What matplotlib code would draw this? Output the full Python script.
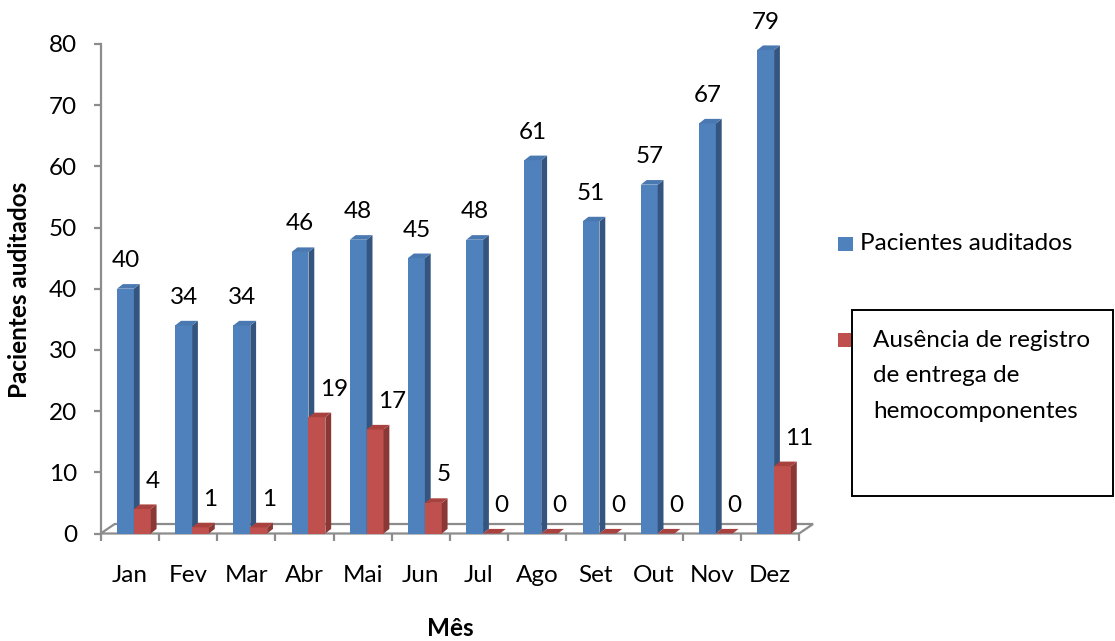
import numpy as np
import matplotlib
matplotlib.use('Agg')
import matplotlib.pyplot as plt
from matplotlib.patches import Polygon, Rectangle

#----Data----#
meses = ['Jan', 'Fev', 'Mar', 'Abr', 'Mai', 'Jun', 'Jul', 'Ago', 'Set', 'Out', 'Nov', 'Dez']
pacientes_auditados = [40, 34, 34, 46, 48, 45, 48, 61, 51, 57, 67, 79]
ausencia_registro = [4, 1, 1, 19, 17, 5, 0, 0, 0, 0, 0, 11]
y_ticks = [0, 10, 20, 30, 40, 50, 60, 70, 80]

serie_azul = 'Pacientes auditados'
serie_vermelha = 'Ausência de registro\nde entrega de\nhemocomponentes'

#----Style----#
plt.rcParams['font.family'] = ['Lato', 'DejaVu Sans']
FS = 17.5
W, H = 1115, 641
AZUL = ('#4F81BD', '#34557F', '#4A78B0')      # front, side, top
VERMELHO = ('#C0504D', '#8A3836', '#A9423F')
CINZA = '#8C8C8C'

# 3D depth of each bar (category units, value units)
DX, DY = 0.1, 0.75
BAR_W = 0.29
PX_X, PX_Y = 58.2, 6.12   # pixels per category / per value unit


def px(x, y):
    # pixel position (from top-left) to figure fraction
    return x / W, 1 - y / H


def draw_bars(ax, lefts, values, cores, z):
    front, side, top = cores
    ax.bar(lefts, values, width=BAR_W, align='edge', color=front, zorder=z, linewidth=0)
    for x0, v in zip(lefts, values):
        x1 = x0 + BAR_W
        ax.add_patch(Polygon([(x1, 0), (x1 + DX, DY), (x1 + DX, v + DY), (x1, v)],
                             closed=True, facecolor=side, edgecolor='none', zorder=z))
        ax.add_patch(Polygon([(x0, v), (x1, v), (x1 + DX, v + DY), (x0 + DX, v + DY)],
                             closed=True, facecolor=top, edgecolor='none', zorder=z))


fig = plt.figure(figsize=(W / 100, H / 100), dpi=100)
x_left, y_zero = 100.7, 533.5
xlim = (0, 12.5)
ylim = (-2, 87)
ax = fig.add_axes([x_left / W,
                   (H - (y_zero - ylim[0] * PX_Y)) / H,
                   (xlim[1] - xlim[0]) * PX_X / W,
                   (ylim[1] - ylim[0]) * PX_Y / H])
ax.set_xlim(*xlim)
ax.set_ylim(*ylim)
ax.patch.set_alpha(0)

# floor of the 3D plot
n = len(meses)
ax.add_patch(Polygon([(0, 0), (n, 0), (n + 0.24, 1.55), (0.24, 1.55)], closed=True,
                     facecolor='none', edgecolor=CINZA, linewidth=1.6, zorder=1))

pos = np.arange(n)
azul_x = pos + 0.28
verm_x = azul_x + BAR_W
draw_bars(ax, azul_x, pacientes_auditados, AZUL, 2)
draw_bars(ax, verm_x, ausencia_registro, VERMELHO, 3)

# data labels
off = 28 / PX_Y
for x, v in zip(azul_x + BAR_W / 2, pacientes_auditados):
    ax.text(x, v + off, str(v), ha='center', va='center', fontsize=FS, zorder=5)
for x, v in zip(verm_x + BAR_W / 2, ausencia_registro):
    ax.text(x + 0.05, v + off, str(v), ha='left', va='center', fontsize=FS, zorder=5)

# axes
for s in ['top', 'right']:
    ax.spines[s].set_visible(False)
ax.spines['left'].set_bounds(0, 80)
ax.spines['left'].set_color(CINZA)
ax.spines['left'].set_linewidth(1.6)
ax.spines['bottom'].set_position(('data', 0))
ax.spines['bottom'].set_color('none')
ax.set_yticks(y_ticks)
ax.tick_params(axis='y', length=5, width=1.6, color=CINZA, pad=12, labelsize=FS)
ax.set_xticks(range(n + 1))
ax.set_xticklabels([])
ax.tick_params(axis='x', which='major', length=5, width=1.6, color=CINZA)
ax.set_xticks(pos + 0.5, minor=True)
ax.set_xticklabels(meses, minor=True)
ax.tick_params(axis='x', which='minor', length=0, pad=23, labelsize=FS)

fig.text(*px(20, 290), 'Pacientes auditados', rotation=90, ha='center', va='center',
         fontsize=FS, fontweight='bold')
fig.text(*px(450, 629), 'Mês', ha='center', va='center', fontsize=FS, fontweight='bold')

# legend
fig.patches.append(Rectangle(px(838, 251), 15 / W, 14 / H, transform=fig.transFigure,
                             facecolor=AZUL[0], edgecolor='none', figure=fig))
fig.text(*px(860, 244), serie_azul, ha='left', va='center', fontsize=FS)
fig.patches.append(Rectangle(px(838, 347), 15 / W, 14 / H, transform=fig.transFigure,
                             facecolor=VERMELHO[0], edgecolor='none', figure=fig))
fig.patches.append(Rectangle(px(852, 496), 261 / W, 186 / H, transform=fig.transFigure,
                             facecolor='white', edgecolor='black', linewidth=1.4, figure=fig))
fig.text(*px(873, 376), serie_vermelha, ha='left', va='center', fontsize=FS, linespacing=1.88)

fig.savefig('out.png', dpi=100)
